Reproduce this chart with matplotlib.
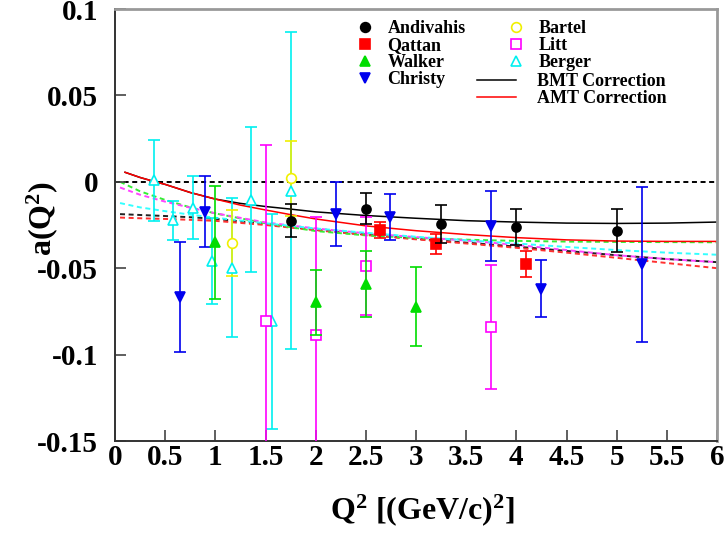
import numpy as np
import matplotlib
matplotlib.use("Agg")
import matplotlib.pyplot as plt
from matplotlib.lines import Line2D
from matplotlib.ticker import MultipleLocator, FuncFormatter

plt.rcParams['font.family'] = ['Liberation Serif', 'DejaVu Serif']
plt.rcParams['font.weight'] = 'bold'
plt.rcParams['axes.labelweight'] = 'bold'
plt.rcParams['mathtext.fontset'] = 'custom'
plt.rcParams['mathtext.rm'] = 'Liberation Serif:bold'
plt.rcParams['mathtext.bf'] = 'Liberation Serif:bold'
plt.rcParams['mathtext.default'] = 'bf'
plt.rcParams['axes.unicode_minus'] = False
plt.rcParams['lines.scale_dashes'] = False

# ---- data points (Q2, a, error) ----
andivahis_q2 = [1.75, 2.5, 3.25, 4.0, 5.0]
andivahis_a = [-0.0224, -0.0156, -0.0247, -0.0262, -0.0282]
andivahis_err = [0.0094, 0.0090, 0.0110, 0.0105, 0.0122]

qattan_q2 = [2.64, 3.2, 4.1]
qattan_a = [-0.0278, -0.0359, -0.0476]
qattan_err = [0.0048, 0.0057, 0.0077]

walker_q2 = [1.0, 2.0, 2.5, 3.0]
walker_a = [-0.0350, -0.0698, -0.0590, -0.0722]
walker_err = [0.0328, 0.0190, 0.0190, 0.0229]

christy_q2 = [0.65, 0.9, 2.2, 2.745, 3.75, 4.25, 5.25]
christy_a = [-0.0668, -0.0172, -0.0185, -0.0203, -0.0257, -0.0620, -0.0478]
christy_err = [0.0318, 0.0205, 0.0185, 0.0135, 0.0202, 0.0165, 0.0448]

bartel_q2 = [1.17, 1.75]
bartel_a = [-0.0355, 0.0021]
bartel_err = [0.0189, 0.0218]

litt_q2 = [1.5, 2.0, 2.5, 3.75]
litt_a = [-0.0808, -0.0885, -0.0488, -0.0839]
litt_err = [0.1020, 0.0680, 0.0282, 0.0360]

berger_q2 = [0.386, 0.58, 0.78, 0.97, 1.17, 1.36, 1.56, 1.75]
berger_a = [0.0008, -0.0222, -0.0149, -0.0457, -0.0496, -0.0104, -0.0808, -0.0052]
berger_err = [0.0235, 0.0112, 0.0180, 0.0250, 0.0400, 0.0420, 0.0620, 0.0918]

# ---- correction curves ----
curve_q2 = [0.1, 0.25, 0.4, 0.5, 0.75, 1.0, 1.25, 1.5, 1.75, 2.0, 2.5, 3.0, 3.5,
            4.0, 4.5, 5.0, 5.5, 6.0]
bmt_a = [0.0055, 0.0025, 0.0, -0.0015, -0.0062, -0.0100, -0.0125, -0.0143, -0.0158,
         -0.0174, -0.0195, -0.0211, -0.0225, -0.0233, -0.0239, -0.0241, -0.0239, -0.0233]
amt_a = [0.0055, 0.0025, 0.0, -0.0015, -0.0062, -0.0100, -0.0135, -0.0163, -0.0190,
         -0.0215, -0.0255, -0.0283, -0.0305, -0.0323, -0.0336, -0.0343, -0.0345, -0.0345]

dash_q2 = [0.05, 0.25, 0.5, 0.75, 1.0, 1.5, 2.0, 2.5, 3.0, 3.5, 4.0, 4.5, 5.0, 5.5, 6.0]
dash_black = [-0.0187, -0.0192, -0.0198, -0.0205, -0.0214, -0.0245, -0.0278, -0.0305,
              -0.0330, -0.0352, -0.0375, -0.0400, -0.0425, -0.0447, -0.0465]
dash_red = [-0.0207, -0.0211, -0.0215, -0.0220, -0.0226, -0.0250, -0.0280, -0.0308,
            -0.0333, -0.0357, -0.0382, -0.0410, -0.0440, -0.0470, -0.0500]
dash_green = [0.0, -0.0055, -0.0105, -0.0148, -0.0183, -0.0240, -0.0285, -0.0310,
              -0.0325, -0.0335, -0.0342, -0.0346, -0.0348, -0.0349, -0.0350]
dash_magenta = [-0.0033, -0.0075, -0.0115, -0.0150, -0.0182, -0.0235, -0.0270, -0.0298,
                -0.0320, -0.0340, -0.0365, -0.0395, -0.0425, -0.0447, -0.0465]
dash_cyan = [-0.0123, -0.0148, -0.0170, -0.0190, -0.0208, -0.0240, -0.0270, -0.0295,
             -0.0318, -0.0338, -0.0357, -0.0377, -0.0395, -0.0410, -0.0422]

GREEN = '#00dd00'

fig = plt.figure(figsize=(7.26, 5.33), dpi=100)
ax = fig.add_axes([115/726, 92/533, 602/726, 432/533])

dash = (0, (3.6, 2.6))
ax.axhline(0, color='black', lw=1.4, ls=dash, zorder=1)
ax.plot(dash_q2, dash_black, color='#222222', lw=1.4, ls=dash, zorder=1)
ax.plot(dash_q2, dash_red, color='#ff3030', lw=1.4, ls=dash, zorder=1)
ax.plot(dash_q2, dash_green, color='#33ee33', lw=1.4, ls=dash, zorder=1)
ax.plot(dash_q2, dash_magenta, color='#ff44ff', lw=1.4, ls=dash, zorder=1)
ax.plot(dash_q2, dash_cyan, color='#33ffff', lw=1.4, ls=dash, zorder=1)
ax.plot(curve_q2, bmt_a, color='black', lw=1.1, zorder=2)
ax.plot(curve_q2, amt_a, color='red', lw=1.1, zorder=2)

def points(q2, a, err, color, marker, filled, zo):
    ax.errorbar(q2, a, yerr=err, fmt='none', ecolor=color, elinewidth=1.2,
                capsize=4.5, capthick=1.2, zorder=zo)
    ax.plot(q2, a, ls='none', marker=marker, ms=6.5 if filled else 7,
            mfc=color if filled else 'white', mec=color, mew=1.2, zorder=zo + 0.5)

points(berger_q2, berger_a, berger_err, '#00f0f0', '^', False, 3)
points(litt_q2, litt_a, litt_err, '#ff00ff', 's', False, 3)
points(bartel_q2, bartel_a, bartel_err, '#f0f000', 'o', False, 3)
points(walker_q2, walker_a, walker_err, GREEN, '^', True, 4)
points(christy_q2, christy_a, christy_err, '#0000ee', 'v', True, 4)
points(qattan_q2, qattan_a, qattan_err, 'red', 's', True, 4)
points(andivahis_q2, andivahis_a, andivahis_err, 'black', 'o', True, 5)

ax.set_xlim(0, 6)
ax.set_ylim(-0.15, 0.1)
ax.xaxis.set_major_locator(MultipleLocator(0.5))
ax.yaxis.set_major_locator(MultipleLocator(0.05))
ax.xaxis.set_major_formatter(FuncFormatter(lambda v, p: '%g' % v))
ax.yaxis.set_major_formatter(FuncFormatter(lambda v, p: '%g' % round(v, 3)))
ax.tick_params(direction='in', length=8, width=1.2, labelsize=21, color='#444444')
ax.tick_params(axis='x', pad=2)
ax.tick_params(axis='y', pad=12)
for s in ['left', 'bottom']:
    ax.spines[s].set_color('#333333')
    ax.spines[s].set_linewidth(1.4)
for s in ['top', 'right']:
    ax.spines[s].set_color('#999999')
    ax.spines[s].set_linewidth(2.0)

ax.set_xlabel(r'Q$^{2}$ [(GeV/c)$^{2}$]', fontsize=23, fontweight='bold', ha='right')
ax.xaxis.set_label_coords((515 - 115) / 602, -0.118)
ax.set_ylabel(r'a(Q$^{2}$)', fontsize=23, fontweight='bold')
ax.yaxis.set_label_coords(-0.092, 0.515)

def handle(color, marker, filled):
    return Line2D([], [], ls='none', marker=marker, ms=7,
                  mfc=color if filled else 'white', mec=color, mew=1.2)

leg_kw = dict(frameon=False, prop={'size': 13, 'weight': 'bold'}, borderpad=0,
              borderaxespad=0, labelspacing=0.0, loc='upper left')
leg1 = ax.legend([handle('black', 'o', True), handle('red', 's', True),
                  handle(GREEN, '^', True), handle('#0000ee', 'v', True)],
                 ['Andivahis', 'Qattan', 'Walker', 'Christy'],
                 bbox_to_anchor=(0.4008, 0.974), handlelength=1.0, handletextpad=0.72,
                 **leg_kw)
ax.add_artist(leg1)
leg2 = ax.legend([handle('#f0f000', 'o', False), handle('#ff00ff', 's', False),
                  handle('#00f0f0', '^', False)],
                 ['Bartel', 'Litt', 'Berger'],
                 bbox_to_anchor=(0.6517, 0.974), handlelength=1.0, handletextpad=0.72,
                 **leg_kw)
ax.add_artist(leg2)
leg3 = ax.legend([Line2D([], [], color='black', lw=1.1), Line2D([], [], color='red', lw=1.1)],
                 ['BMT Correction', 'AMT Correction'],
                 bbox_to_anchor=(0.6013, 0.851), handlelength=2.16, handletextpad=1.16,
                 **leg_kw)

fig.savefig('out.png', dpi=100)
